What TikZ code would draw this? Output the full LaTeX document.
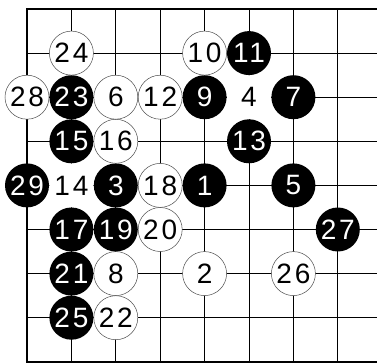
\documentclass[tikz,border=0pt]{standalone}
\usepackage{fontspec}
\newfontfamily\stonefont[LetterSpace=10]{Liberation Sans}
\tikzset{
  gridline/.style={line width=1pt, black},
  edgeline/.style={line width=2.6pt, black, line join=miter},
  stonebase/.style={circle, minimum size=44pt, inner sep=0pt, font=\stonefont\fontsize{28}{28}\selectfont},
  bstone/.style={stonebase, fill=black, text=white},
  wstone/.style={stonebase, fill=white, draw=black!70, line width=0.5pt, text=black},
  wplain/.style={stonebase, fill=white, text=black}
}
\begin{document}
\begin{tikzpicture}[x=44.4pt, y=-44.1pt]
\useasboundingbox (-0.6081,-0.2041) rectangle (7.8829,8.0272);
% grid
\foreach \c in {1,...,7} \draw[gridline] (\c,0) -- (\c,8);
\foreach \r in {1,...,7} \draw[gridline] (0,\r) -- (7.8829,\r);
\draw[edgeline] (7.8829,0) -- (0,0) -- (0,8) -- (7.8829,8);
% stones
\node[bstone] (s1)  at (4,4) {1};
\node[wstone] (s2)  at (4,6) {2};
\node[bstone] (s3)  at (2,4) {3};
\node[wplain] (s4)  at (5,2) {4};
\node[bstone] (s5)  at (6,4) {5};
\node[wstone] (s6)  at (2,2) {6};
\node[bstone] (s7)  at (6,2) {7};
\node[wstone] (s8)  at (2,6) {8};
\node[bstone] (s9)  at (4,2) {9};
\node[wstone] (s10) at (4,1) {10};
\node[bstone] (s11) at (5,1) {11};
\node[wstone] (s12) at (3,2) {12};
\node[bstone] (s13) at (5,3) {13};
\node[wplain] (s14) at (1,4) {14};
\node[bstone] (s15) at (1,3) {15};
\node[wstone] (s16) at (2,3) {16};
\node[bstone] (s17) at (1,5) {17};
\node[wstone] (s18) at (3,4) {18};
\node[bstone] (s19) at (2,5) {19};
\node[wstone] (s20) at (3,5) {20};
\node[bstone] (s21) at (1,6) {21};
\node[wstone] (s22) at (2,7) {22};
\node[bstone] (s23) at (1,2) {23};
\node[wstone] (s24) at (1,1) {24};
\node[bstone] (s25) at (1,7) {25};
\node[wstone] (s26) at (6,6) {26};
\node[bstone] (s27) at (7,5) {27};
\node[wstone] (s28) at (0,2) {28};
\node[bstone] (s29) at (0,4) {29};
\end{tikzpicture}
\end{document}
